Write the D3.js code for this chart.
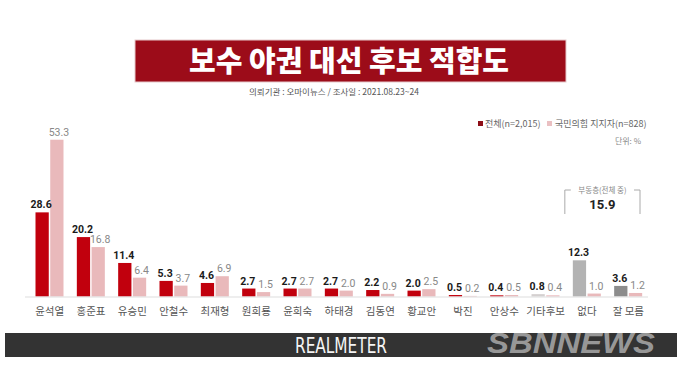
<!DOCTYPE html>
<html>
<head>
<meta charset="utf-8">
<script src="https://cdn.jsdelivr.net/npm/d3@7"></script>
<style>
  body { margin: 0; background: #fff; }
  svg { display: block; font-family: "Noto Sans CJK KR", "Noto Sans", sans-serif; }
</style>
</head>
<body>
<div id="chart"></div>
<script>
'use strict';

// Chart data
var categories = ['윤석열', '홍준표', '유승민', '안철수', '최재형', '원희룡', '윤희숙', '하태경',
    '김동연', '황교안', '박진', '안상수', '기타후보', '없다', '잘 모름'];
var totalValues = [28.6, 20.2, 11.4, 5.3, 4.6, 2.7, 2.7, 2.7, 2.2, 2.0, 0.5, 0.4, 0.8, 12.3, 3.6];
var supporterValues = [53.3, 16.8, 6.4, 3.7, 6.9, 1.5, 2.7, 2.0, 0.9, 2.5, 0.2, 0.5, 0.4, 1.0, 1.2];
var seriesNames = ['전체(n=2,015)', '국민의힘 지지자(n=828)'];
var undecidedTotal = 15.9;

(function() {
    var width = 680, height = 371;
    var baseline = 296.5;

    var svg = d3.select('#chart').append('svg')
        .attr('width', width)
        .attr('height', height);

    // Title banner
    svg.append('rect')
        .attr('x', 135).attr('y', 40)
        .attr('width', 431).attr('height', 42)
        .attr('fill', '#9c0c19')
        .attr('stroke', '#e6c9cc').attr('stroke-width', 1);
    svg.append('text')
        .attr('x', 349).attr('y', 72)
        .attr('text-anchor', 'middle')
        .attr('font-size', '29px').attr('font-weight', 900)
        .attr('fill', '#fff')
        .text('보수 야권 대선 후보 적합도');

    svg.append('text')
        .attr('x', 334).attr('y', 95)
        .attr('text-anchor', 'middle')
        .attr('font-size', '8.5px')
        .attr('fill', '#555')
        .text('의뢰기관 : 오마이뉴스  /  조사일 : 2021.08.23~24');

    // Legend
    var legend = svg.append('g').attr('font-size', '9px').attr('fill', '#666');
    legend.append('rect').attr('x', 478).attr('y', 121).attr('width', 5).attr('height', 5).attr('fill', '#8e0e17');
    legend.append('text').attr('x', 485).attr('y', 127).text(seriesNames[0]);
    legend.append('rect').attr('x', 547).attr('y', 121).attr('width', 5).attr('height', 5).attr('fill', '#eac0c2');
    legend.append('text').attr('x', 555).attr('y', 127).text(seriesNames[1]);
    svg.append('text')
        .attr('x', 641).attr('y', 144)
        .attr('text-anchor', 'end')
        .attr('font-size', '8px').attr('fill', '#888')
        .text('단위: %');

    // Scales
    var x0 = d3.scaleBand()
        .domain(categories)
        .range([29, 649]);
    var x1 = d3.scaleBand()
        .domain([0, 1])
        .range([6.5, 34.5])
        .paddingInner(0.1);
    var y = d3.scaleLinear()
        .domain([0, 60])
        .range([baseline, baseline - 176.5]);

    function totalColor(name) {
        if (name === '없다') return '#b3b3b3';
        if (name === '잘 모름') return '#8c8c8c';
        if (name === '기타후보') return '#d4d0d0';
        return '#c1000d';
    }

    var groups = svg.selectAll('.cat')
        .data(categories)
        .enter().append('g')
        .attr('class', 'cat')
        .attr('transform', function(d) { return 'translate(' + x0(d) + ',0)'; });

    // Total bars
    groups.append('rect')
        .attr('x', x1(0))
        .attr('y', function(d, i) { return y(totalValues[i]); })
        .attr('width', x1.bandwidth())
        .attr('height', function(d, i) { return baseline - y(totalValues[i]); })
        .attr('fill', function(d) { return totalColor(d); });

    // Supporter bars
    groups.append('rect')
        .attr('x', x1(1))
        .attr('y', function(d, i) { return y(supporterValues[i]); })
        .attr('width', x1.bandwidth())
        .attr('height', function(d, i) { return baseline - y(supporterValues[i]); })
        .attr('fill', '#e9b9bb');

    // Value labels
    groups.append('text')
        .attr('x', x1(0) + x1.bandwidth() / 2 - 1)
        .attr('y', function(d, i) { return y(totalValues[i]) - 4; })
        .attr('text-anchor', 'middle')
        .attr('font-family', 'Roboto, "Noto Sans", sans-serif')
        .attr('font-size', '10.5px').attr('font-weight', 700)
        .attr('fill', '#1a1a1a')
        .text(function(d, i) { return totalValues[i].toFixed(1); });

    groups.append('text')
        .attr('x', x1(1) + x1.bandwidth() / 2 + 2)
        .attr('y', function(d, i) { return y(supporterValues[i]) - 4; })
        .attr('text-anchor', 'middle')
        .attr('font-family', 'Roboto, "Noto Sans", sans-serif')
        .attr('font-size', '10.5px')
        .attr('fill', '#888')
        .text(function(d, i) { return supporterValues[i].toFixed(1); });

    // Baseline
    svg.append('line')
        .attr('x1', 25).attr('x2', 648)
        .attr('y1', baseline + 0.5).attr('y2', baseline + 0.5)
        .attr('stroke', '#ddd');

    // Category axis
    var xAxis = d3.axisBottom(x0).tickSize(0).tickPadding(0);
    var axisG = svg.append('g')
        .attr('transform', 'translate(0,' + (baseline + 18) + ')')
        .call(xAxis);
    axisG.select('.domain').remove();
    axisG.selectAll('text')
        .attr('font-family', '"Noto Sans CJK KR", sans-serif')
        .attr('font-size', '10.5px')
        .attr('fill', '#555')
        .attr('dy', 0);

    // Undecided bracket
    var bx0 = x0('없다') + 0.5 - 2, bx1 = x0('잘 모름') + x0.bandwidth() - 9;
    var bracket = svg.append('g').attr('stroke', '#aaa').attr('fill', 'none');
    bracket.append('path')
        .attr('d', 'M' + bx0 + ',214V190H' + (bx0 + 6));
    bracket.append('path')
        .attr('d', 'M' + bx1 + ',214V190H' + (bx1 - 6));
    svg.append('text')
        .attr('x', (bx0 + bx1) / 2).attr('y', 193)
        .attr('text-anchor', 'middle')
        .attr('font-size', '7.5px').attr('fill', '#888')
        .text('부동층(전체 중)');
    svg.append('text')
        .attr('x', (bx0 + bx1) / 2).attr('y', 209)
        .attr('text-anchor', 'middle')
        .attr('font-family', 'Roboto, "Noto Sans", sans-serif')
        .attr('font-size', '13px').attr('font-weight', 700)
        .attr('fill', '#222')
        .text(undecidedTotal.toFixed(1));

    // Footer band
    svg.append('rect')
        .attr('x', 5).attr('y', 333)
        .attr('width', 672).attr('height', 24)
        .attr('fill', '#333');
    svg.append('text')
        .attr('x', 295).attr('y', 353)
        .attr('font-family', '"Liberation Sans Narrow", "DejaVu Sans Condensed", sans-serif')
        .attr('font-size', '21px').attr('font-weight', 300)
        .attr('textLength', 92).attr('lengthAdjust', 'spacingAndGlyphs')
        .attr('fill', '#f4f4f4')
        .text('REALMETER');
    svg.append('text')
        .attr('x', 487).attr('y', 353)
        .attr('font-family', '"Liberation Sans", "DejaVu Sans", sans-serif')
        .attr('font-size', '29px').attr('font-weight', 700).attr('font-style', 'italic')
        .attr('textLength', 168).attr('lengthAdjust', 'spacingAndGlyphs')
        .attr('fill', '#a6a6a6').attr('fill-opacity', 0.9)
        .text('SBNNEWS');
})();
</script>
</body>
</html>
